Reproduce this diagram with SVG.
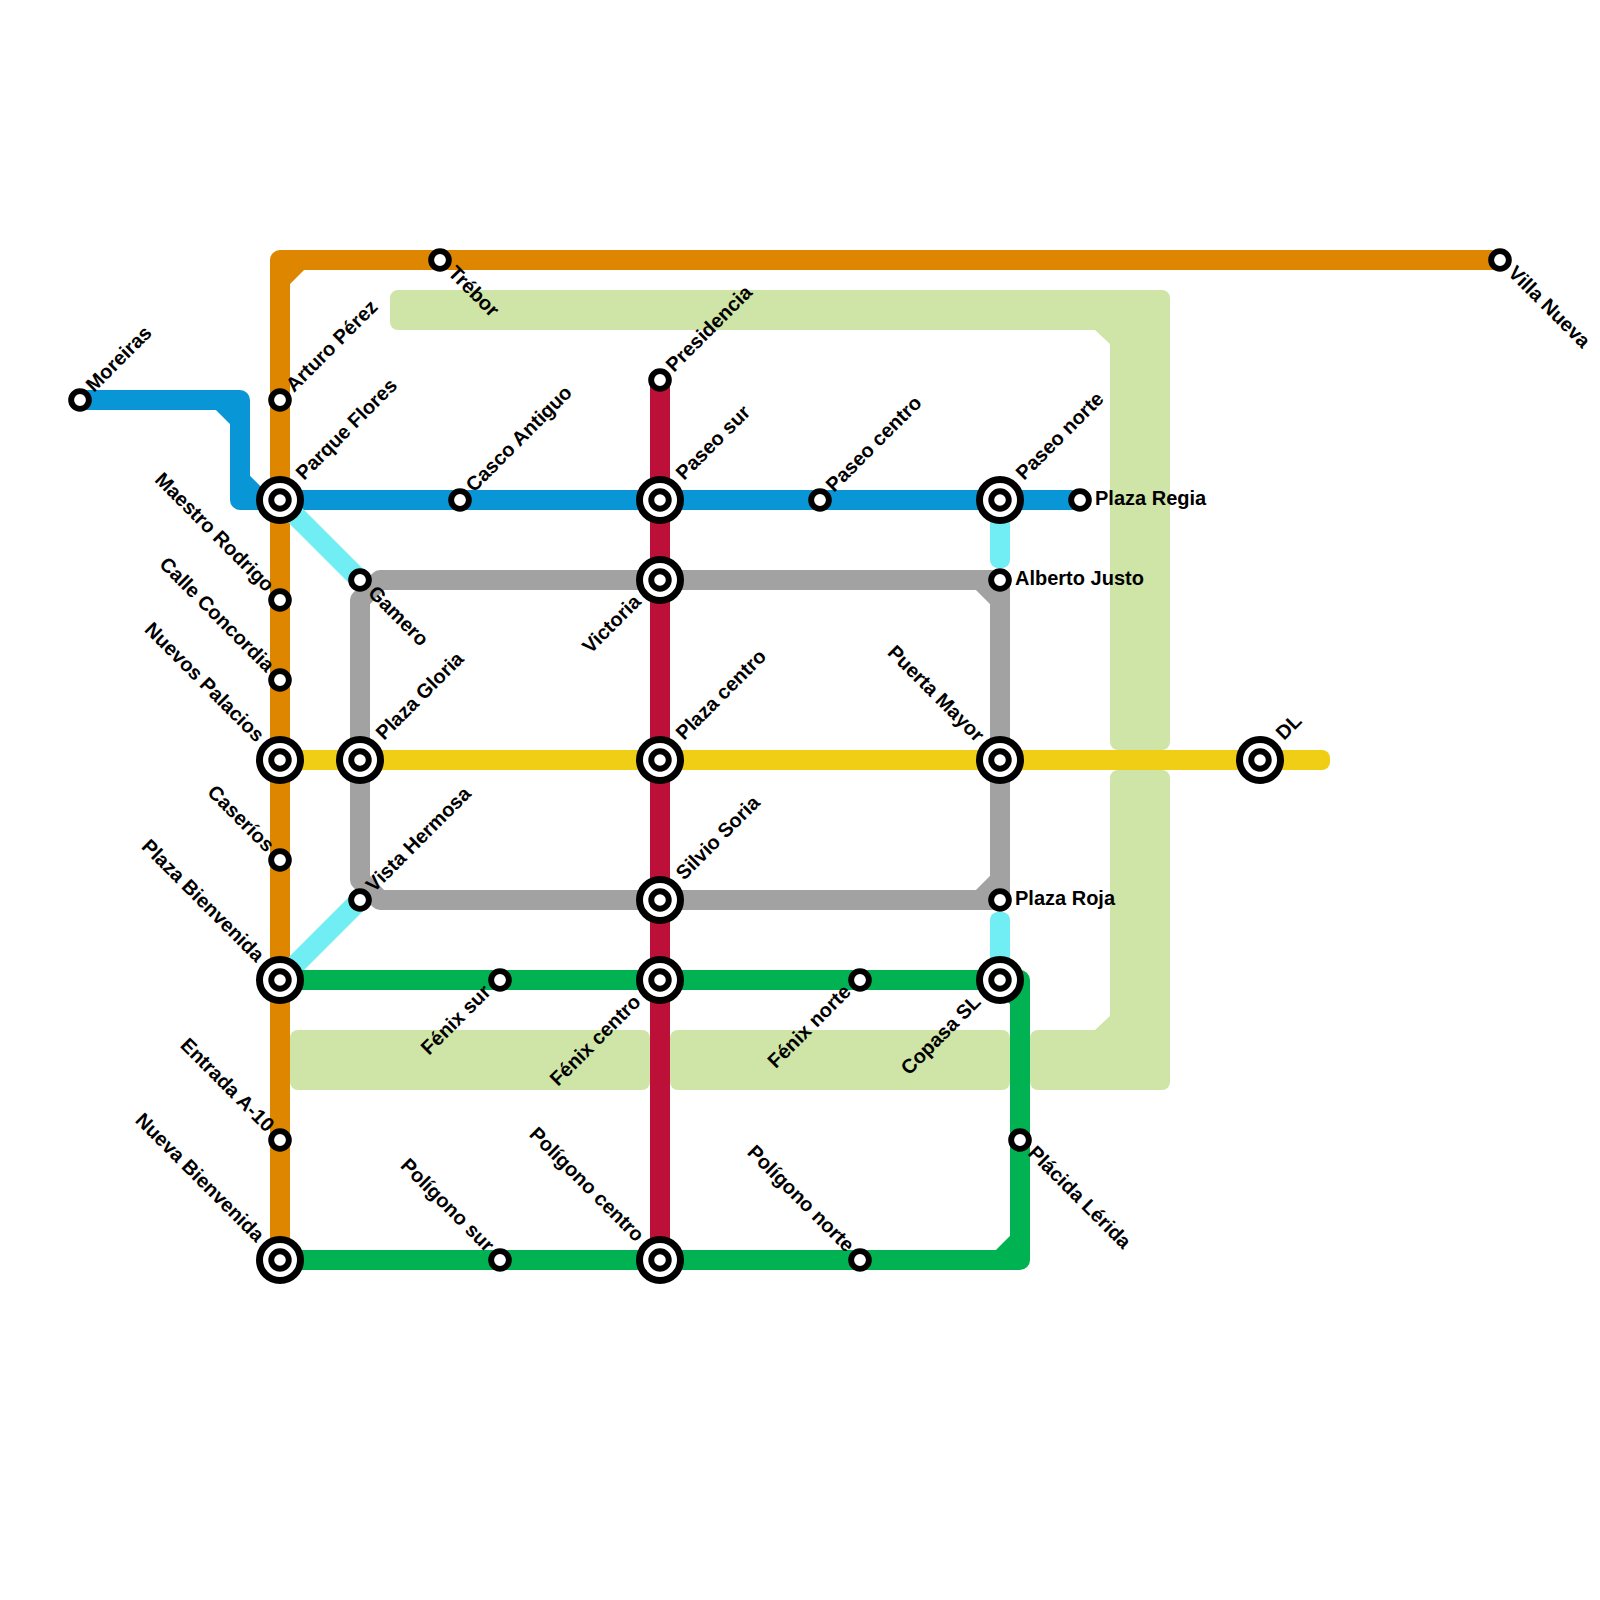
<svg xmlns="http://www.w3.org/2000/svg" width="1600" height="1600" viewBox="0 0 1600 1600">
<style>
.l{fill:none;stroke-width:20;stroke-linejoin:round;stroke-linecap:butt}
.a{fill:#cfe4a7}
.o{stroke:#df8600}.b{stroke:#0896d7}.c{stroke:#70eef4}.g{stroke:#a2a2a2}.r{stroke:#bd1038}.n{stroke:#00b251}.y{stroke:#f0ce15}
.s{fill:#fff;stroke:#000;stroke-width:5.9}
.h{fill:#fff;stroke:#000;stroke-width:7}
text{font-family:"Liberation Sans",Arial,sans-serif;font-size:20px;font-weight:700;fill:#000}
.e{text-anchor:end}
</style>
<defs>
<g id="sm"><circle r="8.85" class="s"/></g>
<g id="bg"><circle r="20.5" class="h"/><circle r="8.75" class="s"/></g>
</defs>
<g id="areas">
<path class="a" d="M398 290H1162a8 8 0 0 1 8 8V742a8 8 0 0 1 -8 8H1118a8 8 0 0 1 -8 -8V344L1095 330H398a8 8 0 0 1 -8 -8V298a8 8 0 0 1 8 -8Z"/>
<path class="a" d="M1118 770H1162a8 8 0 0 1 8 8V1082a8 8 0 0 1 -8 8H1038a8 8 0 0 1 -8 -8V1038a8 8 0 0 1 8 -8H1095L1110 1016V778a8 8 0 0 1 8 -8Z"/>
<rect class="a" x="290" y="1030" width="360" height="60" rx="8"/>
<rect class="a" x="670" y="1030" width="340" height="60" rx="8"/>
</g>
<g id="connectors">
<rect x="272" y="750" width="1058" height="20" rx="8" fill="#f0ce15"/>
<path class="l o" d="M280 1260V260H1500M280 280L300 260"/>
<path class="l b" d="M80 400H240V500H1080M220 400L240 420M240 480L260 500"/>
<path class="l c" d="M280 500L360 580M360 900L280 980"/>
<rect x="990" y="500" width="20" height="68" rx="8" fill="#70eef4"/>
<rect x="990" y="912" width="20" height="68" rx="8" fill="#70eef4"/>
<path class="l g" d="M1000 900H380L360 880V600L380 580H1000V900M980 580L1000 600M980 900L1000 880"/>
<path class="l r" d="M660 380V1260"/>
<path class="l n" d="M280 980H1020V1260H280M1000 980L1020 1000M1000 1260L1020 1240"/>
</g>
<g id="moreiras"><use href="#sm" x="80" y="400"/><text transform="translate(94 393) rotate(-45)">Moreiras</text></g>
<g id="arturo-perez"><use href="#sm" x="280" y="400"/><text transform="translate(294 393) rotate(-45)">Arturo Pérez</text></g>
<g id="parque-flores"><use href="#bg" x="280" y="500"/><text transform="translate(304 481) rotate(-45)">Parque Flores</text></g>
<g id="trebor"><use href="#sm" x="440" y="260"/><text transform="translate(447 274) rotate(45)">Trébor</text></g>
<g id="casco-antiguo"><use href="#sm" x="460" y="500"/><text transform="translate(474 493) rotate(-45)">Casco Antiguo</text></g>
<g id="presidencia"><use href="#sm" x="660" y="380"/><text transform="translate(674 373) rotate(-45)">Presidencia</text></g>
<g id="paseo-sur"><use href="#bg" x="660" y="500"/><text transform="translate(684 481) rotate(-45)">Paseo sur</text></g>
<g id="paseo-centro"><use href="#sm" x="820" y="500"/><text transform="translate(834 493) rotate(-45)">Paseo centro</text></g>
<g id="paseo-norte"><use href="#bg" x="1000" y="500"/><text transform="translate(1024 481) rotate(-45)">Paseo norte</text></g>
<g id="plaza-regia"><use href="#sm" x="1080" y="500"/><text x="1095" y="505">Plaza Regia</text></g>
<g id="alberto-justo"><use href="#sm" x="1000" y="580"/><text x="1015" y="585">Alberto Justo</text></g>
<g id="victoria"><use href="#bg" x="660" y="580"/><text class="e" transform="translate(642 603) rotate(-45)">Victoria</text></g>
<g id="gamero"><use href="#sm" x="360" y="580"/><text transform="translate(367 594) rotate(45)">Gamero</text></g>
<g id="maestro-rodrigo"><use href="#sm" x="280" y="600"/><text class="e" transform="translate(266 593) rotate(45)">Maestro Rodrigo</text></g>
<g id="calle-concordia"><use href="#sm" x="280" y="680"/><text class="e" transform="translate(266 673) rotate(45)">Calle Concordia</text></g>
<g id="nuevos-palacios"><use href="#bg" x="280" y="760"/><text class="e" transform="translate(256 743) rotate(45)">Nuevos Palacios</text></g>
<g id="plaza-gloria"><use href="#bg" x="360" y="760"/><text transform="translate(384 741) rotate(-45)">Plaza Gloria</text></g>
<g id="plaza-centro"><use href="#bg" x="660" y="760"/><text transform="translate(684 741) rotate(-45)">Plaza centro</text></g>
<g id="puerta-mayor"><use href="#bg" x="1000" y="760"/><text class="e" transform="translate(976 743) rotate(45)">Puerta Mayor</text></g>
<g id="dl"><use href="#bg" x="1260" y="760"/><text transform="translate(1284 741) rotate(-45)">DL</text></g>
<g id="caserios"><use href="#sm" x="280" y="860"/><text class="e" transform="translate(266 853) rotate(45)">Caseríos</text></g>
<g id="vista-hermosa"><use href="#sm" x="360" y="900"/><text transform="translate(374 893) rotate(-45)">Vista Hermosa</text></g>
<g id="silvio-soria"><use href="#bg" x="660" y="900"/><text transform="translate(684 881) rotate(-45)">Silvio Soria</text></g>
<g id="plaza-roja"><use href="#sm" x="1000" y="900"/><text x="1015" y="905">Plaza Roja</text></g>
<g id="plaza-bienvenida"><use href="#bg" x="280" y="980"/><text class="e" transform="translate(256 963) rotate(45)">Plaza Bienvenida</text></g>
<g id="fenix-sur"><use href="#sm" x="500" y="980"/><text class="e" transform="translate(492 993) rotate(-45)">Fénix sur</text></g>
<g id="fenix-centro"><use href="#bg" x="660" y="980"/><text class="e" transform="translate(642 1003) rotate(-45)">Fénix centro</text></g>
<g id="fenix-norte"><use href="#sm" x="860" y="980"/><text class="e" transform="translate(852 993) rotate(-45)">Fénix norte</text></g>
<g id="copasa-sl"><use href="#bg" x="1000" y="980"/><text class="e" transform="translate(982 1003) rotate(-45)">Copasa SL</text></g>
<g id="entrada-a10"><use href="#sm" x="280" y="1140"/><text class="e" transform="translate(266 1133) rotate(45)">Entrada A-10</text></g>
<g id="placida-lerida"><use href="#sm" x="1020" y="1140"/><text transform="translate(1027 1154) rotate(45)">Plácida Lérida</text></g>
<g id="nueva-bienvenida"><use href="#bg" x="280" y="1260"/><text class="e" transform="translate(256 1243) rotate(45)">Nueva Bienvenida</text></g>
<g id="poligono-sur"><use href="#sm" x="500" y="1260"/><text class="e" transform="translate(486 1253) rotate(45)">Polígono sur</text></g>
<g id="poligono-centro"><use href="#bg" x="660" y="1260"/><text class="e" transform="translate(636 1243) rotate(45)">Polígono centro</text></g>
<g id="poligono-norte"><use href="#sm" x="860" y="1260"/><text class="e" transform="translate(846 1253) rotate(45)">Polígono norte</text></g>
<g id="villa-nueva"><use href="#sm" x="1500" y="260"/><text transform="translate(1507 274) rotate(45)">Villa Nueva</text></g>
</svg>
